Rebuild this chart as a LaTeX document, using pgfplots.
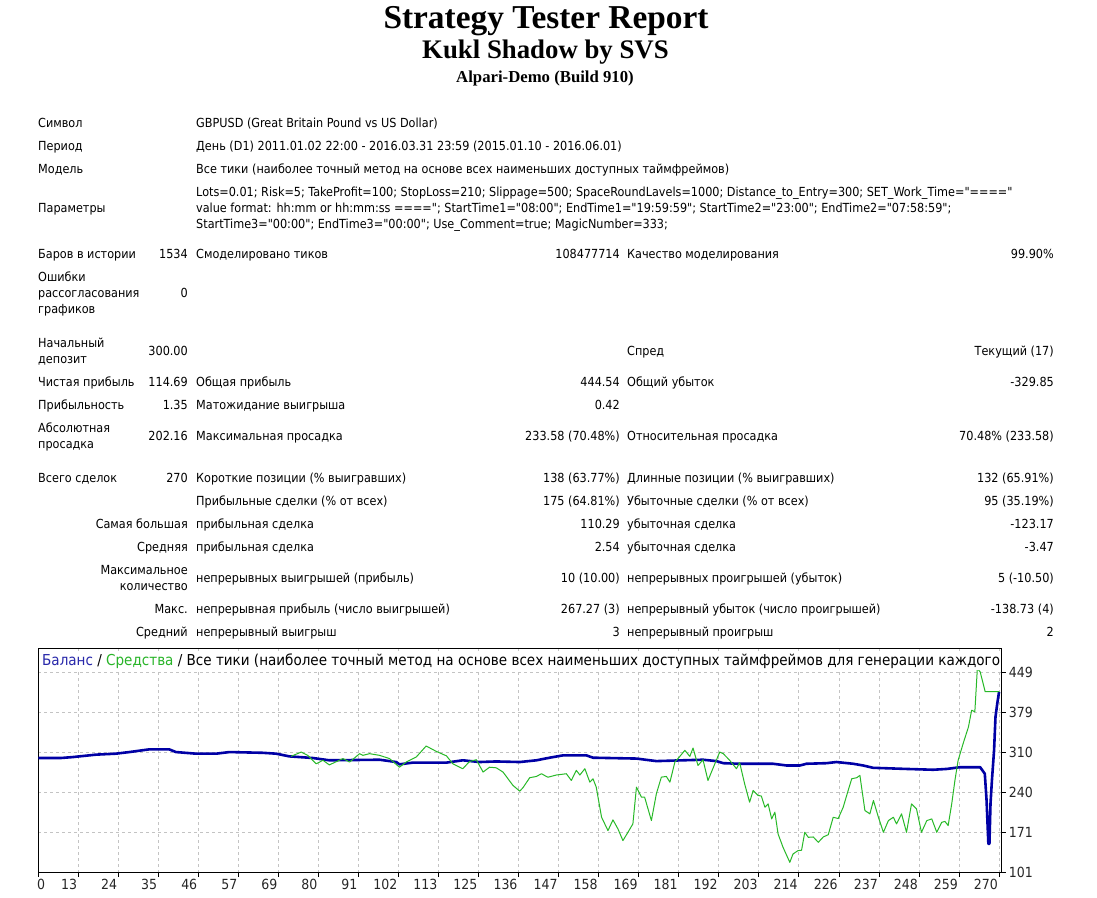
\documentclass[border=0pt]{standalone}
\usepackage{fontspec}
\usepackage{graphicx}
\usepackage{pgfplots}
\pgfplotsset{compat=1.18}
\setmainfont{DejaVu Sans Condensed}
\newfontfamily\serifbold{Liberation Serif}
\newfontfamily\tah{DejaVu Sans Condensed}
\definecolor{bal}{RGB}{0,0,165}
\definecolor{eq}{RGB}{40,185,40}
\definecolor{balt}{RGB}{40,40,170}
\definecolor{eqt}{RGB}{40,180,40}
\definecolor{gridc}{RGB}{195,195,195}
\newcommand\tf{\tah\fontsize{12.55}{14}\selectfont}
\newcommand\Lt[3]{\node[anchor=mid west,inner sep=0pt,font=\tf,yshift=-2.5bp] at (#1bp,-#2bp) {#3};}
\newcommand\Rt[3]{\node[anchor=mid east,inner sep=0pt,font=\tf,yshift=-2.5bp] at (#1bp,-#2bp) {#3};}

\pgfplotstableread{
t v
0 300
6.4 300
9.7 301.6
16.2 305.8
21.8 307.5
25.6 310.3
31.2 315
36.8 315
38.7 310.3
44.3 307.5
50 307.5
53.7 310.3
63.1 309
66.8 307.5
70.6 302.8
77.1 300
81.8 296
95.9 297
100.6 293
101.5 289
105.3 292
114.7 292
119.3 296
124 293
128.7 294
135.3 293
140 296
143.7 300.5
147.5 304.6
154 304.6
155.9 300.5
168.1 299
173.7 294.6
181.2 296
186.8 297
190.6 294.6
192.5 291
197 290
206.5 290
210.3 287
214 287
215.9 290
221.5 291
224.3 293
229 290
231.8 287
234.6 283
244 281
251.5 279.6
255.3 281
259 284
264.7 284
266 272.7
266.5 226
267 151
267.3 151
267.6 220.6
268 261
268.6 313
269 371
269.5 394.5
270 414.69
}\balance

\pgfplotstableread{
t v
71 302.8
73.9 310.3
75.7 304.6
78.1 290
80 296
81.8 288
85.6 299
87.5 293
90.3 307.5
91.2 304.6
93.1 307.5
95.9 304.6
98.7 299
101.5 284
103.4 293
106.2 301.6
109 320.8
111.8 311.6
114.7 303.7
116.5 290
119.3 281.4
121.2 294
123.1 297
125 275.6
126.8 284
128.7 283
130.6 275.6
133.4 252.4
135.3 242.5
136.2 248.4
138.1 265.8
140 268
141.4 272.7
143.2 266.6
145.6 270.5
148.4 272.7
149.8 261
151.2 278.5
152.2 270.5
153.6 281.4
155 258.1
155.9 263.8
156.8 249.4
158.3 197.2
160.1 174
161.5 192.7
162.9 177
164.3 156.7
165.7 171
167.1 185.7
168.1 249.4
169.5 232
170.4 232
172.3 191.5
173.7 238
175.1 266.8
176.5 268
177.5 258
178.9 293
180.3 302.8
181.7 313.3
183.1 302.8
184 317.3
185.4 287
186.8 297
188.2 261
189.6 282
191.5 310.3
192.5 307.5
194.3 296
196.2 281.4
197.1 292
198.5 255.3
199.9 223.3
200.9 243.7
202.3 235
203.2 234
204.2 214.6
205.1 220.4
206.1 194.4
207 206
207.9 168.3
209.3 145
211.2 119
212.1 133.5
213.5 139.3
214.5 140
215.4 171.1
216.4 162.4
217.8 163
219.2 153.7
220.6 163
222 166.9
223.4 197.2
224.8 195
226.2 214.6
227.6 243.7
228.6 264
230 265.8
230.9 269.8
232.3 208.9
233.7 203.1
234.7 226.3
236.1 197.2
237.5 171.1
238.9 191.4
240.3 197.2
241.2 185.7
242.6 203.1
244 171.1
245.4 220.4
246.8 211.7
248.2 171.1
249.7 191.4
251.1 194.3
252.5 171.1
253.9 188.4
254.8 190
255.7 182.8
256.7 220.4
257.6 261
258.5 295.9
259.9 324.9
261.4 353.8
262.3 382.9
263.2 380
263.9 455
264.7 449.5
266.1 415
270.1 415
}\equity

\begin{document}
\begin{tikzpicture}
\useasboundingbox (0,0) rectangle (1097bp,-898bp);
\fill[white] (0,0) rectangle (1097bp,-898bp);

% header
\node[anchor=base,inner sep=0pt,font=\serifbold\bfseries\fontsize{33.5}{35}\selectfont] at (546bp,-28bp) {Strategy Tester Report};
\node[anchor=base,inner sep=0pt,font=\serifbold\bfseries\fontsize{26.9}{28}\selectfont] at (545.5bp,-58bp) {Kukl Shadow by SVS};
\node[anchor=base,inner sep=0pt,font=\serifbold\bfseries\fontsize{16.8}{18}\selectfont] at (545bp,-82bp) {Alpari-Demo (Build 910)};

% table
\Lt{38}{122}{Символ}
\Lt{196}{122}{GBPUSD (Great Britain Pound vs US Dollar)}
\Lt{38}{145}{Период}
\Lt{196}{145}{День (D1) 2011.01.02 22:00 - 2016.03.31 23:59 (2015.01.10 - 2016.06.01)}
\Lt{38}{168}{Модель}
\Lt{196}{168}{Все тики (наиболее точный метод на основе всех наименьших доступных таймфреймов)}
\Lt{38}{207}{Параметры}
\Lt{196}{191}{Lots=0.01; Risk=5; TakeProfit=100; StopLoss=210; Slippage=500; SpaceRoundLavels=1000; Distance\_to\_Entry=300; SET\_Work\_Time="===="}
\Lt{196}{207}{value format: hh:mm or hh:mm:ss ===="; StartTime1="08:00"; EndTime1="19:59:59"; StartTime2="23:00"; EndTime2="07:58:59";}
\Lt{196}{223}{StartTime3="00:00"; EndTime3="00:00"; Use\_Comment=true; MagicNumber=333;}

\Lt{38}{253}{Баров в истории}
\Rt{188}{253}{1534}
\Lt{196}{253}{Смоделировано тиков}
\Rt{620}{253}{108477714}
\Lt{627}{253}{Качество моделирования}
\Rt{1054}{253}{99.90\%}

\Lt{38}{276}{Ошибки}
\Lt{38}{292}{рассогласования}
\Lt{38}{308}{графиков}
\Rt{188}{292}{0}

\Lt{38}{342}{Начальный}
\Lt{38}{358}{депозит}
\Rt{188}{350}{300.00}
\Lt{627}{350}{Спред}
\Rt{1054}{350}{Текущий (17)}

\Lt{38}{381}{Чистая прибыль}
\Rt{188}{381}{114.69}
\Lt{196}{381}{Общая прибыль}
\Rt{620}{381}{444.54}
\Lt{627}{381}{Общий убыток}
\Rt{1054}{381}{-329.85}

\Lt{38}{404}{Прибыльность}
\Rt{188}{404}{1.35}
\Lt{196}{404}{Матожидание выигрыша}
\Rt{620}{404}{0.42}

\Lt{38}{427}{Абсолютная}
\Lt{38}{443}{просадка}
\Rt{188}{435}{202.16}
\Lt{196}{435}{Максимальная просадка}
\Rt{620}{435}{233.58 (70.48\%)}
\Lt{627}{435}{Относительная просадка}
\Rt{1054}{435}{70.48\% (233.58)}

\Lt{38}{477}{Всего сделок}
\Rt{188}{477}{270}
\Lt{196}{477}{Короткие позиции (\% выигравших)}
\Rt{620}{477}{138 (63.77\%)}
\Lt{627}{477}{Длинные позиции (\% выигравших)}
\Rt{1054}{477}{132 (65.91\%)}

\Lt{196}{500}{Прибыльные сделки (\% от всех)}
\Rt{620}{500}{175 (64.81\%)}
\Lt{627}{500}{Убыточные сделки (\% от всех)}
\Rt{1054}{500}{95 (35.19\%)}

\Rt{188}{523}{Самая большая}
\Lt{196}{523}{прибыльная сделка}
\Rt{620}{523}{110.29}
\Lt{627}{523}{убыточная сделка}
\Rt{1054}{523}{-123.17}

\Rt{188}{546}{Средняя}
\Lt{196}{546}{прибыльная сделка}
\Rt{620}{546}{2.54}
\Lt{627}{546}{убыточная сделка}
\Rt{1054}{546}{-3.47}

\Rt{188}{569}{Максимальное}
\Rt{188}{585}{количество}
\Lt{196}{577}{непрерывных выигрышей (прибыль)}
\Rt{620}{577}{10 (10.00)}
\Lt{627}{577}{непрерывных проигрышей (убыток)}
\Rt{1054}{577}{5 (-10.50)}

\Rt{188}{608}{Макс.}
\Lt{196}{608}{непрерывная прибыль (число выигрышей)}
\Rt{620}{608}{267.27 (3)}
\Lt{627}{608}{непрерывный убыток (число проигрышей)}
\Rt{1054}{608}{-138.73 (4)}

\Rt{188}{631}{Средний}
\Lt{196}{631}{непрерывный выигрыш}
\Rt{620}{631}{3}
\Lt{627}{631}{непрерывный проигрыш}
\Rt{1054}{631}{2}

\begin{axis}[
  at={(38.3bp,-872.7bp)}, anchor=south west,
  scale only axis, width=963.4bp, height=224.7bp,
  xmin=0, xmax=270.75, ymin=101, ymax=490.8,
  xtick={0,11.25,22.5,33.75,45,56.25,67.5,78.75,90,101.25,112.5,123.75,135,146.25,157.5,168.75,180,191.25,202.5,213.75,225,236.25,247.5,258.75,270},
  xticklabels={\makebox[0pt][l]{0},13,24,35,46,57,69,80,91,102,113,125,136,147,158,169,181,192,203,214,226,237,248,259,270},
  ytick={101,170.6,240.2,309.8,379.4,449},
  yticklabels={101,171,240,310,379,449},
  xtick pos=bottom, ytick pos=right, yticklabel pos=right,
  tick align=outside, major tick length=4bp,
  grid=major,
  major grid style={gridc, dash pattern=on 3bp off 3bp, line width=0.8bp},
  axis line style={black, line width=1bp},
  tick style={black, line width=0.8bp},
  tick label style={font=\tah\fontsize{14}{16}\selectfont, text=black!85},
  /pgf/number format/assume math mode=true,
  xticklabel style={anchor=north east, inner xsep=1bp, inner ysep=2bp},
  yticklabel style={anchor=west, inner xsep=3bp},
]
\addplot[bal, line width=2.6bp, line join=round] table[x=t,y=v] {\balance};
\addplot[eq, line width=1bp, line join=round] table[x=t,y=v] {\equity};
\end{axis}

\node[anchor=mid west, fill=white, inner xsep=0pt, inner ysep=1.5bp] at (42bp,-663bp)
 {\resizebox{958bp}{!}{\tah\fontsize{14}{16}\selectfont\textcolor{balt}{Баланс} / \textcolor{eqt}{Средства} / Все тики (наиболее точный метод на основе всех наименьших доступных таймфреймов для генерации каждого}};
\end{tikzpicture}
\end{document}
